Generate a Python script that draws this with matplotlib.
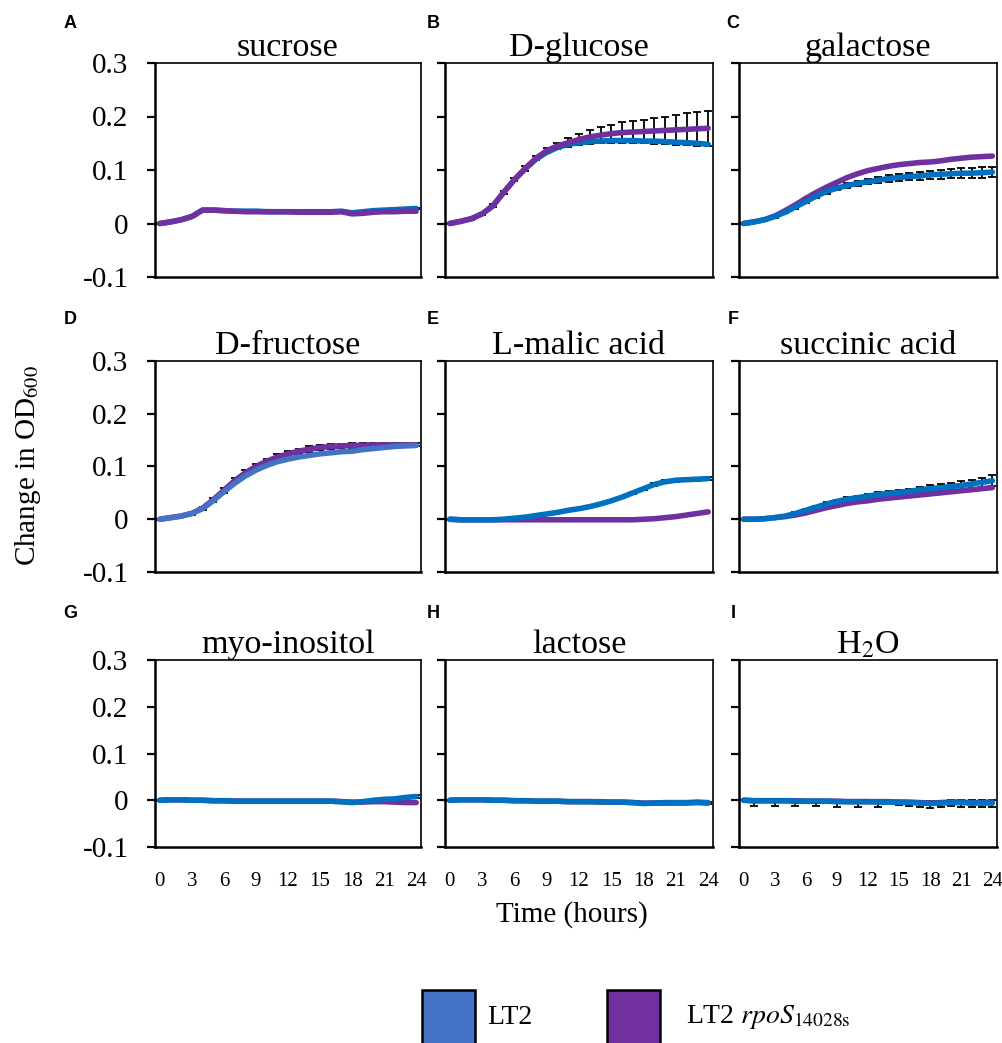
import matplotlib

matplotlib.use("Agg")
import matplotlib.pyplot as plt
from matplotlib.patches import Rectangle

plt.rcParams["font.family"] = ["Liberation Serif", "DejaVu Serif"]
plt.rcParams["mathtext.fontset"] = "stix"

hours = list(range(25))

# growth curves (change in OD600), one value per hour
sucrose_lt2 = [0, 0.003, 0.007, 0.013, 0.025, 0.025, 0.024, 0.023, 0.023, 0.023, 0.022, 0.022, 0.022,
               0.022, 0.022, 0.022, 0.022, 0.023, 0.020, 0.022, 0.024, 0.025, 0.026, 0.027, 0.028]
sucrose_rpos = [0, 0.003, 0.007, 0.013, 0.025, 0.025, 0.024, 0.023, 0.022, 0.022, 0.022, 0.022, 0.022,
                0.021, 0.021, 0.021, 0.021, 0.022, 0.018, 0.019, 0.021, 0.022, 0.022, 0.023, 0.023]
sucrose_err = [0.001] * 25

glucose_lt2 = [0, 0.004, 0.009, 0.018, 0.033, 0.058, 0.082, 0.102, 0.120, 0.133, 0.142, 0.148, 0.151,
               0.153, 0.154, 0.155, 0.155, 0.155, 0.154, 0.154, 0.153, 0.152, 0.151, 0.150, 0.148]
glucose_rpos = [0, 0.004, 0.009, 0.018, 0.033, 0.058, 0.082, 0.103, 0.122, 0.136, 0.145, 0.151, 0.157,
                0.162, 0.165, 0.168, 0.170, 0.171, 0.172, 0.173, 0.174, 0.175, 0.176, 0.177, 0.178]
glucose_err = [0.001, 0.001, 0.002, 0.002, 0.003, 0.003, 0.003, 0.004, 0.004, 0.005, 0.006, 0.008, 0.011,
               0.013, 0.015, 0.017, 0.019, 0.021, 0.022, 0.024, 0.026, 0.028, 0.030, 0.032, 0.033]

galactose_lt2 = [0, 0.003, 0.007, 0.013, 0.021, 0.031, 0.041, 0.051, 0.060, 0.066, 0.071, 0.075, 0.078,
                 0.081, 0.084, 0.086, 0.088, 0.089, 0.091, 0.092, 0.093, 0.094, 0.094, 0.095, 0.096]
galactose_rpos = [0, 0.003, 0.007, 0.014, 0.024, 0.035, 0.047, 0.058, 0.068, 0.077, 0.086, 0.093, 0.099,
                  0.103, 0.107, 0.110, 0.112, 0.114, 0.115, 0.117, 0.120, 0.122, 0.124, 0.125, 0.126]
galactose_err = [0.001, 0.001, 0.002, 0.002, 0.002, 0.003, 0.003, 0.003, 0.004, 0.004, 0.004, 0.005, 0.005,
                 0.005, 0.006, 0.006, 0.006, 0.007, 0.007, 0.008, 0.008, 0.009, 0.009, 0.010, 0.010]

fructose_lt2 = [0, 0.003, 0.006, 0.011, 0.020, 0.035, 0.052, 0.068, 0.082, 0.093, 0.102, 0.109, 0.114,
                0.118, 0.121, 0.124, 0.126, 0.128, 0.129, 0.132, 0.134, 0.136, 0.138, 0.139, 0.140]
fructose_rpos = [0, 0.003, 0.006, 0.011, 0.021, 0.037, 0.055, 0.073, 0.088, 0.100, 0.110, 0.118, 0.124,
                 0.129, 0.133, 0.136, 0.138, 0.139, 0.140, 0.140, 0.141, 0.141, 0.141, 0.141, 0.141]
fructose_err = [0.001, 0.001, 0.002, 0.002, 0.003, 0.004, 0.005, 0.005, 0.005, 0.005, 0.005, 0.005, 0.005,
                0.005, 0.005, 0.005, 0.004, 0.004, 0.004, 0.004, 0.003, 0.003, 0.003, 0.003, 0.003]

malic_lt2 = [0, -0.001, -0.001, -0.001, -0.001, 0.000, 0.002, 0.004, 0.007, 0.010, 0.013, 0.017, 0.020,
             0.024, 0.029, 0.035, 0.042, 0.050, 0.058, 0.066, 0.071, 0.074, 0.075, 0.076, 0.077]
malic_rpos = [0, -0.001, -0.001, -0.001, -0.001, -0.001, -0.001, -0.001, -0.001, -0.001, -0.001, -0.001,
              -0.001, -0.001, -0.001, -0.001, -0.001, -0.001, 0.000, 0.001, 0.003, 0.005, 0.008, 0.011, 0.014]
malic_err = [0.001] * 17 + [0.002, 0.002, 0.003, 0.003, 0.003, 0.003, 0.003, 0.003]

succinic_lt2 = [0, 0, 0.001, 0.003, 0.006, 0.011, 0.017, 0.023, 0.029, 0.034, 0.038, 0.041, 0.044,
                0.047, 0.049, 0.051, 0.053, 0.056, 0.058, 0.060, 0.062, 0.064, 0.067, 0.070, 0.073]
succinic_rpos = [0, 0, 0.001, 0.003, 0.005, 0.008, 0.012, 0.017, 0.022, 0.026, 0.030, 0.033, 0.035,
                 0.038, 0.040, 0.042, 0.044, 0.046, 0.048, 0.050, 0.052, 0.054, 0.056, 0.058, 0.060]
succinic_err = [0.001, 0.001, 0.001, 0.001, 0.002, 0.002, 0.002, 0.003, 0.003, 0.003, 0.004, 0.004, 0.004,
                0.004, 0.005, 0.005, 0.005, 0.006, 0.006, 0.007, 0.007, 0.008, 0.008, 0.009, 0.010]

inositol_lt2 = [0, 0.001, 0.001, 0, 0, -0.001, -0.001, -0.002, -0.002, -0.002, -0.002, -0.002, -0.002,
                -0.002, -0.002, -0.002, -0.002, -0.003, -0.005, -0.003, 0.000, 0.002, 0.003, 0.006, 0.008]
inositol_rpos = [0, 0.001, 0.001, 0, 0, -0.001, -0.001, -0.002, -0.002, -0.002, -0.002, -0.002, -0.002,
                 -0.002, -0.002, -0.002, -0.002, -0.003, -0.004, -0.004, -0.003, -0.003, -0.004, -0.005, -0.005]
inositol_err = [0.001] * 21 + [0.002, 0.002, 0.003, 0.004]

lactose_lt2 = [0, 0.001, 0.001, 0.001, 0, 0, -0.001, -0.001, -0.002, -0.002, -0.002, -0.003, -0.003,
               -0.003, -0.003, -0.004, -0.004, -0.005, -0.007, -0.006, -0.005, -0.005, -0.005, -0.004, -0.005]
lactose_rpos = [0, 0.001, 0.001, 0.001, 0, 0, -0.001, -0.001, -0.002, -0.002, -0.002, -0.003, -0.003,
                -0.003, -0.004, -0.004, -0.004, -0.005, -0.006, -0.006, -0.006, -0.006, -0.006, -0.005, -0.006]
lactose_err = [0.001] * 15 + [0.002] * 10

water_lt2 = [0, -0.001, -0.001, -0.001, -0.001, -0.002, -0.002, -0.002, -0.002, -0.003, -0.003, -0.003,
             -0.003, -0.004, -0.004, -0.004, -0.005, -0.006, -0.007, -0.006, -0.005, -0.005, -0.006, -0.006, -0.006]
water_rpos = [0, -0.001, -0.001, -0.001, -0.001, -0.001, -0.002, -0.002, -0.002, -0.002, -0.003, -0.003,
              -0.003, -0.003, -0.003, -0.004, -0.004, -0.005, -0.006, -0.005, -0.004, -0.004, -0.005, -0.005, -0.004]
# water error bars only show below the line for most of the run
water_err_low = [0, 0.011, 0, 0.011, 0, 0.011, 0, 0.011, 0, 0.011, 0, 0.011, 0, 0.011, 0, 0.006,
                 0.007, 0.008, 0.009, 0.008, 0.008, 0.009, 0.009, 0.009, 0.009]
water_err_high = [0] * 16 + [0.003, 0.004, 0.005, 0.005, 0.006, 0.006, 0.007, 0.007, 0.007]

letters = ["A", "B", "C", "D", "E", "F", "G", "H", "I"]
titles = ["sucrose", "D-glucose", "galactose", "D-fructose", "L-malic acid", "succinic acid",
          "myo-inositol", "lactose", r"H$_2$O"]
lt2_curves = [sucrose_lt2, glucose_lt2, galactose_lt2, fructose_lt2, malic_lt2, succinic_lt2,
              inositol_lt2, lactose_lt2, water_lt2]
rpos_curves = [sucrose_rpos, glucose_rpos, galactose_rpos, fructose_rpos, malic_rpos, succinic_rpos,
               inositol_rpos, lactose_rpos, water_rpos]
errors = [(e, e) for e in (sucrose_err, glucose_err, galactose_err, fructose_err, malic_err,
                           succinic_err, inositol_err, lactose_err)]
errors.append((water_err_low, water_err_high))
# which strain carries the plotted error bars
err_on = ["lt2", "rpos", "lt2", "rpos", "lt2", "lt2", "lt2", "lt2", "lt2"]

y_ticks = [-0.1, 0, 0.1, 0.2, 0.3]
y_ticklabels = ["-0.1", "0", "0.1", "0.2", "0.3"]
x_ticks = [0, 3, 6, 9, 12, 15, 18, 21, 24]

BLUE = "#0070C0"
SOFT_BLUE = "#4472C4"
PURPLE = "#7030A0"
W, H = 1003, 1043

# panel boxes in pixels: (left, right) per column, (top, bottom) per row
cols = [(155, 421), (445, 713), (739, 997)]
rows = [(63, 277), (361, 572), (660, 847)]
letter_x = [70, 433, 733]
row_letter_y = [23, 320, 613]
purple_on_top = {"sucrose", "D-glucose"}

fig = plt.figure(figsize=(W / 100, H / 100), dpi=100)

for i in range(9):
    r, c = divmod(i, 3)
    (x0, x1), (y0, y1) = cols[c], rows[r]
    ax = fig.add_axes([x0 / W, 1 - y1 / H, (x1 - x0) / W, (y1 - y0) / H])

    lt2, rpos = lt2_curves[i], rpos_curves[i]
    base = lt2 if err_on[i] == "lt2" else rpos
    ax.errorbar(hours, base, yerr=[errors[i][0], errors[i][1]], fmt="none", ecolor="black",
                elinewidth=1.3, capsize=3, capthick=1.3, zorder=1)
    top_purple = titles[i] in purple_on_top
    blue = SOFT_BLUE if titles[i] == "D-fructose" else BLUE
    ax.plot(hours, lt2, color=blue, lw=4, solid_capstyle="round", zorder=2 if top_purple else 3)
    ax.plot(hours, rpos, color=PURPLE, lw=4, solid_capstyle="round", zorder=3 if top_purple else 2)

    ax.set_xlim(-0.45, 24.45)
    ax.set_ylim(-0.1, 0.3)
    ax.set_yticks(y_ticks)
    ax.set_xticks(x_ticks)
    ax.tick_params(axis="x", length=0, labelsize=15, pad=18, labelbottom=(r == 2))
    ax.tick_params(axis="y", direction="out", length=6, width=1.6, labelsize=21, pad=13,
                   labelleft=(c == 0))
    if c == 0:
        ax.set_yticklabels(y_ticklabels)
    for side in ("left", "bottom"):
        ax.spines[side].set_linewidth(1.8)
    for side in ("top", "right"):
        ax.spines[side].set_linewidth(1.2)

    ax.set_title(titles[i], fontsize=24.5, pad=3)
    fig.text(letter_x[c] / W, 1 - row_letter_y[r] / H, letters[i], family="Liberation Sans",
             fontweight="bold", fontsize=13, ha="center", va="center")

fig.text(28 / W, 1 - 466 / H, r"Change in OD$_{600}$", rotation=90, fontsize=21,
         ha="center", va="center")
fig.text(572 / W, 1 - 915 / H, "Time (hours)", fontsize=21, ha="center", va="center")

# legend swatches along the bottom edge
fig.patches.append(Rectangle((422 / W, 1 - 1046 / H), 53 / W, 56 / H, transform=fig.transFigure,
                             facecolor=SOFT_BLUE, edgecolor="black", lw=1.8))
fig.patches.append(Rectangle((607 / W, 1 - 1046 / H), 53 / W, 56 / H, transform=fig.transFigure,
                             facecolor=PURPLE, edgecolor="black", lw=1.8))
fig.text(487 / W, 1 - 1017 / H, "LT2", fontsize=20, ha="left", va="center")
fig.text(686 / W, 1 - 1017 / H, r"LT2 $\it{rpoS}_{\rm{14028s}}$", fontsize=20, ha="left", va="center")

fig.savefig("out.png", dpi=100)
